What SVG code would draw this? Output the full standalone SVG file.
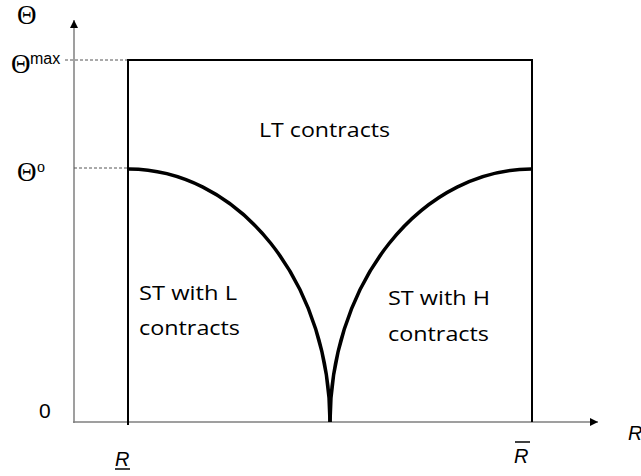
<svg xmlns="http://www.w3.org/2000/svg" width="641" height="476" viewBox="0 0 641 476">
<style>
.axis{stroke:#7f7f7f;stroke-width:1.5;fill:none}
.box{stroke:#000;stroke-width:2;fill:none}
.curve{stroke:#000;stroke-width:3.5;fill:none}
.dash{stroke:#555;stroke-width:1;stroke-dasharray:3 2;fill:none}
.lbl{font-family:"Open Sans","Liberation Sans",sans-serif;font-size:20px;fill:#000}
.serif{font-family:"Liberation Serif","DejaVu Serif",serif;fill:#000}
.ax{font-family:"Liberation Sans",Arial,sans-serif;fill:#000}
</style>
<defs>
<marker id="arr" markerWidth="10" markerHeight="10" refX="8" refY="4" orient="auto" markerUnits="userSpaceOnUse">
<path d="M0,0 L8,4 L0,8 Z" fill="#000"/>
</marker>
</defs>
<g id="connectors">
<line class="axis" x1="74" y1="423" x2="74" y2="20" marker-end="url(#arr)"/>
<line class="axis" x1="73" y1="422" x2="598" y2="422" marker-end="url(#arr)"/>
<line class="dash" x1="65" y1="60" x2="128" y2="60"/>
<line class="dash" x1="74" y1="168" x2="128" y2="168"/>
<path class="box" d="M128,425 L128,60 L532,60 L532,422"/>
<path class="curve" d="M129,169 A202,254 0 0 1 330,422"/>
<path class="curve" d="M330,422 A202,254 0 0 1 531,169"/>
</g>
<g id="theta-axis-label"><text class="serif" x="17" y="24" font-size="27">Θ</text></g>
<g id="theta-max-label"><text class="serif" x="11" y="73" font-size="27">Θ</text><text class="ax" x="30" y="64" font-size="16">max</text></g>
<g id="theta-o-label"><text class="serif" x="17" y="181" font-size="27">Θ</text><text class="serif" x="37" y="172" font-size="16">o</text></g>
<g id="zero-label"><text class="ax" x="39" y="418" font-size="21">0</text></g>
<g id="r-low-label"><text class="ax" x="115" y="466" font-size="20" font-style="italic">R</text><line x1="115" y1="469" x2="130" y2="469" stroke="#000" stroke-width="1.5"/></g>
<g id="r-high-label"><line x1="515" y1="442" x2="530" y2="442" stroke="#000" stroke-width="1.5"/><text class="ax" x="514" y="463" font-size="20" font-style="italic">R</text></g>
<g id="r-axis-label"><text class="ax" x="628" y="440" font-size="20" font-style="italic">R</text></g>
<g id="lt-region"><text class="lbl" x="259" y="137" textLength="131" lengthAdjust="spacingAndGlyphs">LT contracts</text></g>
<g id="st-l-region"><text class="lbl" x="139" y="300" textLength="98" lengthAdjust="spacingAndGlyphs">ST with L</text><text class="lbl" x="139" y="335" textLength="101" lengthAdjust="spacingAndGlyphs">contracts</text></g>
<g id="st-h-region"><text class="lbl" x="388" y="305" textLength="102" lengthAdjust="spacingAndGlyphs">ST with H</text><text class="lbl" x="388" y="341" textLength="101" lengthAdjust="spacingAndGlyphs">contracts</text></g>
</svg>
